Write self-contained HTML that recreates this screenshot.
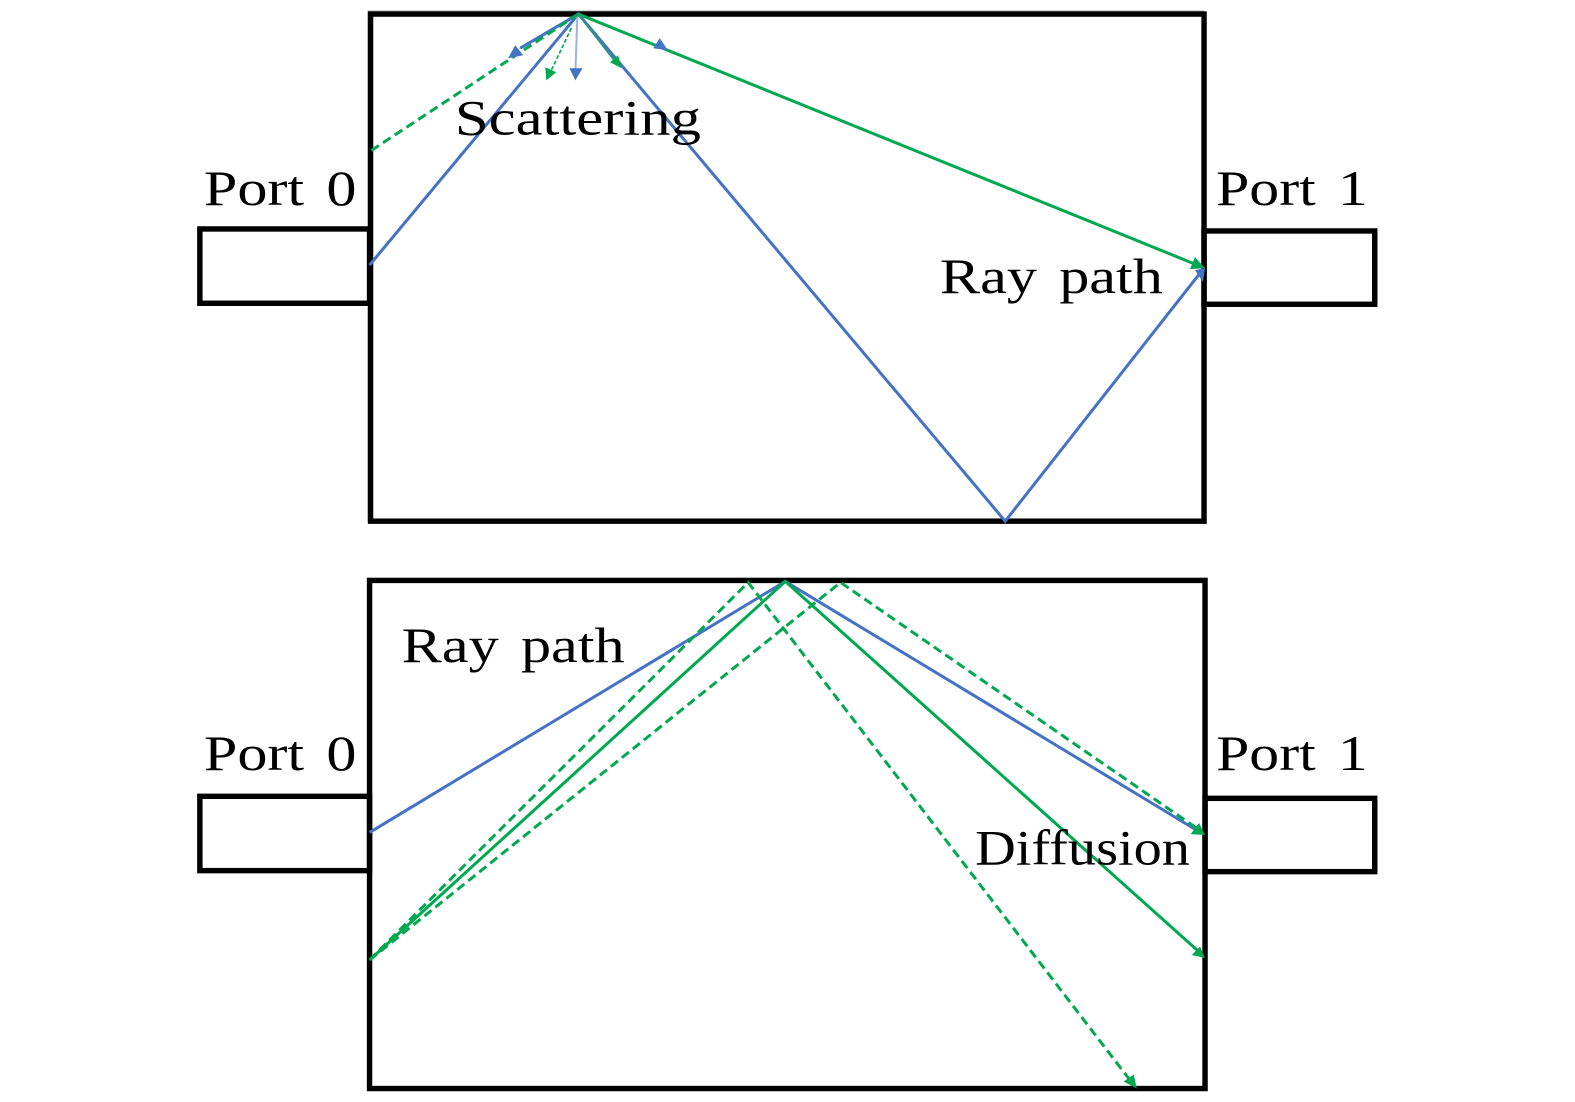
<!DOCTYPE html>
<html>
<head>
<meta charset="utf-8">
<style>
html,body{margin:0;padding:0;background:#fff;}
svg{display:block;}
text{font-family:"Liberation Serif",serif;font-size:50px;fill:#000;word-spacing:6px;}
.box{fill:none;stroke:#000;stroke-width:5.4;}
.b{stroke:#4472c4;stroke-width:3;fill:none;}
.g{stroke:#00a84f;stroke-width:3;fill:none;}
.d{stroke:#00a84f;stroke-width:3;fill:none;stroke-dasharray:9 5;}
.hb{fill:#4472c4;}
.hg{fill:#00a84f;}
</style>
</head>
<body>
<svg width="1575" height="1102" viewBox="0 0 1568.4 1097.4" xmlns="http://www.w3.org/2000/svg">
<rect x="0" y="0" width="1568.4" height="1097.4" fill="#fff"/>

<!-- Top diagram -->
<polyline points="367,520 367,11.5 1199,11.5" fill="none" stroke="#aaa" stroke-width="2"/>
<rect class="box" x="199" y="228" width="169" height="74"/>
<rect class="box" x="1199" y="230" width="170" height="73"/>
<rect class="box" x="369" y="14" width="830" height="505"/>

<polyline class="b" points="368,264 576,14 1001,519 1195,272"/>
<line class="b" x1="576" y1="14" x2="518" y2="48"/>
<line x1="575" y1="14" x2="573" y2="72" stroke="#9db3e2" stroke-width="2"/>
<line class="g" x1="576" y1="14" x2="1190" y2="263"/>
<line class="g" x1="576" y1="14" x2="612" y2="60" style="stroke:#2f8f8a;stroke-width:2.4"/>
<line class="d" x1="576" y1="14" x2="368" y2="151"/>
<line x1="569" y1="28" x2="548" y2="72" stroke="#00a84f" stroke-width="1.6" stroke-dasharray="4 2"/>

<polygon class="hb" points="506,58 513,45 521,55"/>
<polygon class="hb" points="567,68 580,68 573,80"/>
<polygon class="hg" points="544,80 543,67 554,72"/>
<polygon class="hg" points="619,68 607.5,62 615.5,55"/>
<polygon class="hb" points="665,50 650.5,48 657,38"/>
<polygon class="hg" points="1200,267 1190,256 1185,268"/>
<polygon class="hb" points="1200,267 1190,269 1198,281"/>

<text x="453" y="134" textLength="245" lengthAdjust="spacingAndGlyphs">Scattering</text>
<text x="203" y="204" textLength="152" lengthAdjust="spacingAndGlyphs">Port 0</text>
<text x="1211" y="204" textLength="151" lengthAdjust="spacingAndGlyphs">Port 1</text>
<text x="936" y="292" textLength="222" lengthAdjust="spacingAndGlyphs">Ray path</text>

<!-- Bottom diagram -->
<rect class="box" x="199" y="793" width="169" height="74"/>
<rect class="box" x="1200" y="795" width="169" height="73"/>
<rect class="box" x="368" y="578" width="832" height="506"/>

<polyline class="b" points="368,829 782,579 1197,830"/>
<polyline class="g" points="368,956 782,579 1192,946"/>
<polyline class="d" points="368,956 745,580 1124,1074"/>
<polyline class="d" points="368,956 837,580 1195,827"/>

<polygon class="hg" points="1200,831.5 1194,819.6 1185.7,830.6"/>
<polygon class="hg" points="1200,954 1195,942.7 1186.7,951"/>
<polygon class="hg" points="1132,1084 1129,1070 1119,1077"/>

<text x="400" y="659" textLength="222" lengthAdjust="spacingAndGlyphs">Ray path</text>
<text x="203" y="767" textLength="152" lengthAdjust="spacingAndGlyphs">Port 0</text>
<text x="1211" y="767" textLength="151" lengthAdjust="spacingAndGlyphs">Port 1</text>
<text x="971" y="861" textLength="214" lengthAdjust="spacingAndGlyphs">Diffusion</text>
</svg>
</body>
</html>
